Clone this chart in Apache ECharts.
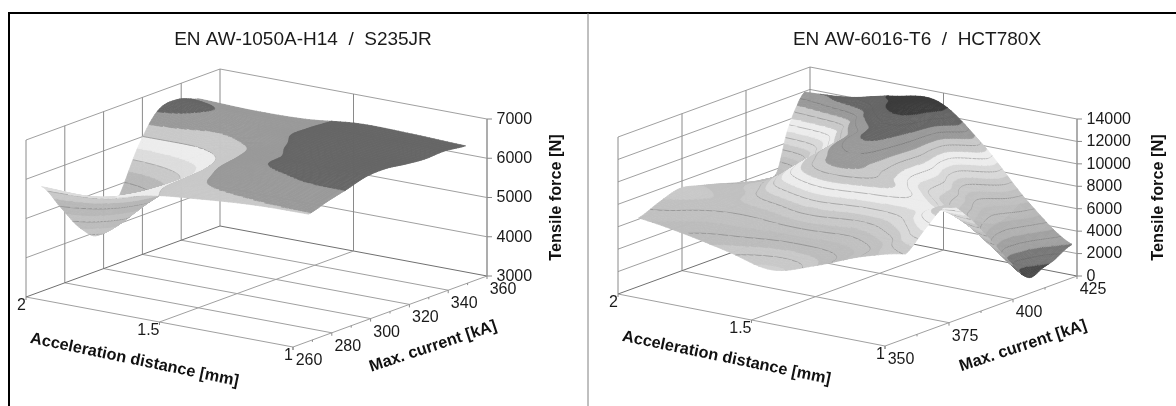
<!DOCTYPE html>
<html><head><meta charset="utf-8">
<style>html,body{margin:0;padding:0;background:#fff}#c{width:1176px;height:406px}</style>
<script src="https://cdn.jsdelivr.net/npm/echarts@6/dist/echarts.min.js"></script>
</head><body><div id="c"></div>
<script>
// ---- panel 1 data ----
const distanceA = [2, 1.8, 1.6, 1.4, 1.2, 1];
const currentA = [268, 278, 288, 298, 308, 318, 328, 338, 349];
const forceA = [
  [5668, 5650, 5960, 6110, 6215, 6240],
  [4950, 5400, 6010, 6300, 6380, 6390],
  [4250, 5150, 6040, 6380, 6490, 6520],
  [3920, 5050, 6080, 6470, 6560, 6660],
  [4700, 5400, 6150, 6490, 6600, 6680],
  [5800, 5920, 6240, 6560, 6620, 6610],
  [6520, 6265, 6400, 6600, 6620, 6560],
  [6620, 6440, 6430, 6600, 6600, 6580],
  [6440, 6400, 6430, 6570, 6560, 6515]
];
const distTicksA = [2, 1.5, 1];
const currentTicksA = [260, 280, 300, 320, 340, 360];
const forceTicksA = [3000, 4000, 5000, 6000, 7000];
const titleA = 'EN AW-1050A-H14  /  S235JR';
const levelsA = [4000, 4500, 5000, 5500, 6000];
const paletteA = ['#c8c8c8','#c8c8c8','#c8c8c8','#c8c8c8','#c4c4c4','#bcbcbc','#c0c0c0','#b8b8b8',
  '#b8b8b8','#c8c8c8','#dcdcdc','#ececec','#c8c8c8','#999999','#666666','#444444'];

// ---- panel 2 data ----
const distanceB = [2, 1.83, 1.67, 1.5, 1.33, 1.17, 1];
const currentB = [358, 366, 374, 382, 390, 398, 406, 412, 416, 420, 423];
const forceB = [
  [6108, 5500, 4700, 3800, 5000, 6500, 7535],
  [6840, 6100, 5900, 5400, 5700, 6900, 9200],
  [7400, 6800, 7000, 8000, 7200, 8400, 10500],
  [7000, 7000, 9300, 10900, 10100, 9200, 8900],
  [6500, 7500, 10200, 11500, 9800, 8300, 6400],
  [5930, 7000, 10700, 12000, 9000, 6800, 3700],
  [5500, 7900, 11100, 12300, 8800, 5500, 1450],
  [5630, 8900, 12000, 12800, 7900, 5000, 1855],
  [8900, 9900, 12600, 13150, 8000, 5300, 2150],
  [11000, 12050, 12950, 13400, 10400, 5900, 2700],
  [11940, 12250, 13100, 13400, 10270, 6150, 2980]
];
const distTicksB = [2, 1.5, 1];
const currentTicksB = [350, 375, 400, 425];
const forceTicksB = [0, 2000, 4000, 6000, 8000, 10000, 12000, 14000];
const titleB = 'EN AW-6016-T6  /  HCT780X';
const levelsB = [1500, 2500, 3500, 4500, 5500, 6500, 7500, 8500, 9500, 10500, 11500, 12500];
const paletteB = ['#333333','#4a4a4a','#777777','#a0a0a0','#b0b0b0','#b8b8b8','#c0c0c0','#c8c8c8',
  '#d8d8d8','#ececec','#c8c8c8','#999999','#666666','#3c3c3c'];
const paletteBLeft = {3:'#d0d0d0', 4:'#c8c8c8', 5:'#bcbcbc'};

const FONT = '"Liberation Sans", Arial, sans-serif';

function catmull(a, b, c, d, t) {
  return 0.5 * (2*b + (c-a)*t + (2*a-5*b+4*c-d)*t*t + (3*b-a-3*c+d)*t*t*t);
}

function buildPanel(p, gridIndex) {
  const dMax = p.distTicks[0], dMin = p.distTicks[p.distTicks.length-1];
  const cMin = p.currentTicks[0], cMax = p.currentTicks[p.currentTicks.length-1];
  const zMin = p.forceTicks[0], zMax = p.forceTicks[p.forceTicks.length-1];
  const tot = p.ay + p.by + p.hz, wid = p.ax + p.bx;
  function proj(d, c, z) {
    const D = (dMax-d)/(dMax-dMin), C = (c-cMin)/(cMax-cMin), Z = (z-zMin)/(zMax-zMin);
    return [(D*p.ax + C*p.bx)/wid, ((1-D)*p.ay + C*p.by + Z*p.hz)/tot];
  }
  function clampGet(r, c) {
    r = Math.max(0, Math.min(p.force.length-1, r));
    c = Math.max(0, Math.min(p.force[0].length-1, c));
    return p.force[r][c];
  }
  function smooth(r, c, s, t) {
    const rows = [];
    for (let k = -1; k <= 2; k++) {
      rows.push(catmull(clampGet(r+k,c-1), clampGet(r+k,c), clampGet(r+k,c+1), clampGet(r+k,c+2), t));
    }
    return catmull(rows[0], rows[1], rows[2], rows[3], s);
  }
  const common = {type:'custom', coordinateSystem:'cartesian2d', xAxisIndex:gridIndex, yAxisIndex:gridIndex,
    silent:true, animation:false, clip:false, progressive:0};

  // walls and floor
  const lineData = [];
  const add = (a, b, col, w) => lineData.push({a, b, col, w});
  const GR = '#a0a0a0', WL = '#8a8a8a', DK = '#707070';
  p.forceTicks.forEach(z => {
    if (z === zMin) return;
    add([dMax,cMin,z],[dMax,cMax,z],GR,1);
    add([dMax,cMax,z],[dMin,cMax,z],GR,1);
  });
  p.currentTicks.forEach(c => {
    add([dMax,c,zMin],[dMax,c,zMax],WL,1);
    if (c !== cMin && c !== cMax) add([dMax,c,zMin],[dMin,c,zMin],GR,1);
  });
  add([dMax,cMin,zMin],[dMin,cMin,zMin],GR,1);
  add([dMin,cMin,zMin],[dMin,cMax,zMin],GR,1);
  add([dMax,cMin,zMin],[dMax,cMax,zMin],DK,1);
  add([dMax,cMax,zMin],[dMin,cMax,zMin],DK,1);
  p.distTicks.slice(1,-1).forEach(d => {
    add([d,cMin,zMin],[d,cMax,zMin],GR,1);
    add([d,cMax,zMin],[d,cMax,zMax],WL,1);
  });
  add([dMin,cMax,zMin],[dMin,cMax,zMax],'#999999',1.6);
  const lines = Object.assign({}, common, {
    z:1, data: lineData.map((_,i)=>[i]),
    renderItem(params, api) {
      const l = lineData[params.dataIndex];
      const P = api.coord(proj(...l.a)), Q = api.coord(proj(...l.b));
      return {type:'line', shape:{x1:P[0],y1:P[1],x2:Q[0],y2:Q[1]}, style:{stroke:l.col,lineWidth:l.w}};
    }
  });

  // surface, far cells first
  const cells = [];
  for (let r = p.current.length-2; r >= 0; r--)
    for (let c = 0; c < p.distance.length-1; c++) cells.push([r,c]);
  const SUB = p.sub;
  const step = p.bandStep;
  const bandOf = z => Math.max(0, Math.min(p.palette.length-1, Math.floor((z-zMin)/step)));
  function colorOf(b, Dn) {
    if (p.paletteLeft && Dn < 0.8 && p.paletteLeft[b]) return p.paletteLeft[b];
    return p.palette[b];
  }
  function clip(poly, lo, keepAbove) {
    const out = [];
    for (let i = 0; i < poly.length; i++) {
      const A = poly[i], B = poly[(i+1)%poly.length];
      const ia = keepAbove ? A[2] >= lo : A[2] <= lo;
      const ib = keepAbove ? B[2] >= lo : B[2] <= lo;
      if (ia) out.push(A);
      if (ia !== ib) {
        const t = (lo-A[2])/(B[2]-A[2]);
        out.push([A[0]+(B[0]-A[0])*t, A[1]+(B[1]-A[1])*t, lo]);
      }
    }
    return out;
  }
  const surface = Object.assign({}, common, {
    z:2, data: cells,
    renderItem(params, api) {
      const [r, c] = cells[params.dataIndex];
      const children = [];
      const pts = [];
      for (let a = 0; a <= SUB; a++) {
        const row = [];
        const s = a/SUB;
        const cur = p.current[r] + (p.current[r+1]-p.current[r])*s;
        for (let b = 0; b <= SUB; b++) {
          const t = b/SUB;
          const dist = p.distance[c] + (p.distance[c+1]-p.distance[c])*t;
          const z = smooth(r, c, s, t);
          const xy = api.coord(proj(dist, cur, z));
          row.push([xy[0], xy[1], z]);
        }
        pts.push(row);
      }
      const Dn = ((dMax-p.distance[c])/(dMax-dMin) + (dMax-p.distance[c+1])/(dMax-dMin))/2;
      const addPoly = (poly, band) => {
        if (poly.length < 3) return;
        const col = colorOf(band, Dn);
        children.push({type:'polygon', shape:{points:poly.map(q=>[q[0],q[1]])},
          style:{fill:col, stroke:col, lineWidth:0.7}});
      };
      for (let a = SUB-1; a >= 0; a--) {
        const quadLines = [];
        for (let b = 0; b < SUB; b++) {
          const q = [pts[a][b], pts[a][b+1], pts[a+1][b+1], pts[a+1][b]];
          const bs = q.map(v => bandOf(v[2]));
          if (bs.every(v => v === bs[0])) addPoly(q, bs[0]);
          else {
            [[q[0],q[1],q[2]],[q[0],q[2],q[3]]].forEach(tri => {
              const zs = tri.map(v=>v[2]);
              const lo = bandOf(Math.min(...zs)), hi = bandOf(Math.max(...zs));
              for (let k = lo; k <= hi; k++) {
                let poly = tri;
                if (k > lo) poly = clip(poly, zMin+k*step, true);
                if (k < hi) poly = clip(poly, zMin+(k+1)*step, false);
                addPoly(poly, k);
              }
            });
          }
          [[q[0],q[1],q[2]],[q[0],q[2],q[3]]].forEach(tri => {
            p.levels.forEach(lev => {
              const cross = [];
              for (let i = 0; i < 3; i++) {
                const A = tri[i], B = tri[(i+1)%3];
                if ((A[2]-lev)*(B[2]-lev) < 0) {
                  const t = (lev-A[2])/(B[2]-A[2]);
                  cross.push([A[0]+(B[0]-A[0])*t, A[1]+(B[1]-A[1])*t]);
                }
              }
              if (cross.length === 2) quadLines.push(cross);
            });
          });
        }
        quadLines.forEach(seg => children.push({type:'polyline', shape:{points:seg},
          style:{fill:null, stroke:'#5a5a5a', lineWidth:0.6, opacity:0.65}}));
      }
      return {type:'group', children};
    }
  });

  // tick marks and labels
  const textData = [];
  const tickData = [];
  p.currentMinor.forEach(c => tickData.push([dMin,c,zMin,0,2]));
  p.currentTicks.forEach(c => {
    tickData.push([dMin,c,zMin,0,3]);
    textData.push({at:[dMin,c,zMin], dx:16, dy:13.5, text:String(c), align:'center'});
  });
  p.distTicks.forEach(d => {
    tickData.push([d,cMin,zMin,0,3]);
    textData.push({at:[d,cMin,zMin], dx:0, dy:8.5, text:String(d), align:'right'});
  });
  p.forceTicks.forEach(z => {
    tickData.push([dMin,cMax,z,5,0]);
    textData.push({at:[dMin,cMax,z], dx:9.5, dy:0.5, text:String(z), align:'left'});
  });
  const ticks = Object.assign({}, common, {
    z:1, data: tickData.map((_,i)=>[i]),
    renderItem(params, api) {
      const t = tickData[params.dataIndex];
      const P = api.coord(proj(t[0],t[1],t[2]));
      return {type:'line', shape:{x1:P[0],y1:P[1],x2:P[0]+t[3],y2:P[1]+t[4]}, style:{stroke:'#8a8a8a',lineWidth:1}};
    }
  });
  const midD = (dMax+dMin)/2, midC = (cMax+cMin)/2, midZ = (zMax+zMin)/2;
  const nameData = [
    {at:[midD,cMin,zMin], dx:p.nameD[0], dy:p.nameD[1], text:'Acceleration distance [mm]', rot:-0.205},
    {at:[dMin,midC,zMin], dx:p.nameC[0], dy:p.nameC[1], text:'Max. current [kA]', rot:0.32},
    {at:[dMin,cMax,midZ], dx:p.nameZ[0], dy:p.nameZ[1], text:'Tensile force [N]', rot:Math.PI/2}
  ];
  const labels = Object.assign({}, common, {
    z:3, data: textData.map((_,i)=>[i]),
    renderItem(params, api) {
      const t = textData[params.dataIndex];
      const P = api.coord(proj(...t.at));
      return {type:'text', style:{x:P[0]+t.dx, y:P[1]+t.dy, text:t.text, fill:'#1a1a1a',
        font:'16px '+FONT, align:t.align, verticalAlign:'middle'}};
    }
  });
  const names = Object.assign({}, common, {
    z:3, data: nameData.map((_,i)=>[i]),
    renderItem(params, api) {
      const t = nameData[params.dataIndex];
      const P = api.coord(proj(...t.at));
      return {type:'text', x:P[0]+t.dx, y:P[1]+t.dy, rotation:t.rot,
        style:{x:0, y:0, text:t.text, fill:'#111', font:'bold 16.3px '+FONT, align:'center', verticalAlign:'middle'}};
    }
  });
  return [lines, ticks, surface, labels, names];
}

const panelA = {distance:distanceA, current:currentA, force:forceA, distTicks:distTicksA,
  currentTicks:currentTicksA, forceTicks:forceTicksA, currentMinor:[270,290,310,330,350],
  levels:levelsA, palette:paletteA, bandStep:250, sub:12,
  ax:267, bx:194, ay:50, by:71, hz:157,
  nameD:[-25,38], nameC:[43,35], nameZ:[70,0]};
const panelB = {distance:distanceB, current:currentB, force:forceB, distTicks:distTicksB,
  currentTicks:currentTicksB, forceTicks:forceTicksB, currentMinor:[362.5,387.5,412.5],
  levels:levelsB, palette:paletteB, paletteLeft:paletteBLeft, bandStep:1000, sub:10,
  ax:267, bx:192, ay:52, by:70, hz:157,
  nameD:[-25,38], nameC:[42,35], nameZ:[82,0]};

const grids = [
  {left:26, top:69, width:461, height:278, show:false},
  {left:618, top:67, width:459, height:279, show:false}
];
const axis = i => ({gridIndex:i, type:'value', min:0, max:1, show:false});

const chart = echarts.init(document.getElementById('c'), null, {renderer:'canvas', width:1176, height:406});
chart.setOption({
  animation:false,
  backgroundColor:'#ffffff',
  title:[
    {text:titleA, left:298, top:25, textAlign:'center', textStyle:{fontFamily:FONT, fontSize:19, fontWeight:'normal', color:'#1a1a1a'}},
    {text:titleB, left:912, top:25, textAlign:'center', textStyle:{fontFamily:FONT, fontSize:19, fontWeight:'normal', color:'#1a1a1a'}}
  ],
  grid:grids,
  xAxis:[axis(0),axis(1)],
  yAxis:[axis(0),axis(1)],
  graphic:[
    {type:'line', shape:{x1:8,y1:13,x2:1176,y2:13}, style:{stroke:'#000',lineWidth:2}},
    {type:'line', shape:{x1:9,y1:13,x2:9,y2:406}, style:{stroke:'#000',lineWidth:2}},
    {type:'line', shape:{x1:588,y1:13,x2:588,y2:406}, style:{stroke:'#808080',lineWidth:1}}
  ],
  series:[...buildPanel(panelA,0), ...buildPanel(panelB,1)]
});
</script></body></html>
